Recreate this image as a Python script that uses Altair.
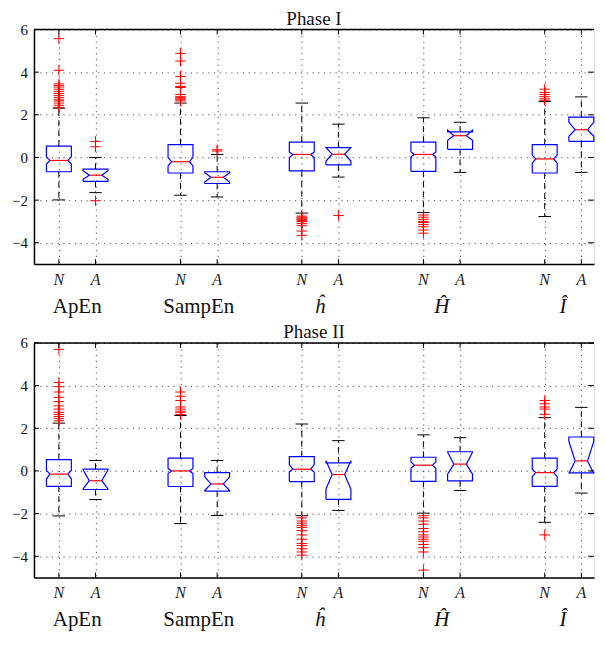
import altair as alt
import pandas as pd

# ---------------- data ----------------
positions = [1.0, 2.0, 4.32, 5.32, 7.63, 8.63, 10.95, 11.95, 14.26, 15.26]
cls_labels = ["N", "A", "N", "A", "N", "A", "N", "A", "N", "A"]
measures = ["ApEn", "SampEn", "ĥ", "Ĥ", "Î"]
measure_italic = [False, False, True, True, True]
yticks = [-4, -2, 0, 2, 4, 6]

# Phase I
p1_q1 = [-0.67, -1.12, -0.73, -1.22, -0.63, -0.35, -0.65, 0.38, -0.73, 0.75]
p1_med = [-0.14, -0.83, -0.20, -0.93, 0.14, 0.15, 0.14, 1.02, -0.07, 1.30]
p1_q3 = [0.53, -0.55, 0.60, -0.67, 0.72, 0.46, 0.72, 1.20, 0.60, 1.89]
p1_nlo = [-0.31, -1.02, -0.40, -1.15, 0.00, -0.17, 0.03, 0.80, -0.27, 0.99]
p1_nhi = [0.03, -0.62, 0.01, -0.72, 0.26, 0.46, 0.26, 1.28, 0.11, 1.65]
p1_wlo = [-1.99, -1.65, -1.77, -1.85, -2.61, -0.92, -2.58, -0.70, -2.77, -0.70]
p1_whi = [2.31, 0.00, 2.55, 0.14, 2.55, 1.56, 1.86, 1.65, 2.62, 2.84]
p1_out = [
    [5.57, 4.09, 3.45, 3.38, 3.3, 3.2, 3.1, 3.0, 2.9, 2.8, 2.7, 2.65, 2.55, 2.45, 2.35],
    [0.75, 0.5, -2.03],
    [4.88, 4.52, 3.8, 3.48, 3.33, 3.28, 2.95, 2.85, 2.8, 2.75, 2.7, 2.65],
    [0.36, 0.3],
    [-2.75, -2.8, -2.85, -2.9, -2.95, -3.0, -3.1, -3.2, -3.45, -3.65],
    [-2.72],
    [-2.7, -2.8, -2.9, -3.0, -3.05, -3.15, -3.25, -3.4, -3.55],
    [],
    [3.2, 3.05, 2.95, 2.85, 2.75, 2.68],
    [],
]

# Phase II
p2_q1 = [-0.72, -0.87, -0.73, -0.95, -0.50, -1.33, -0.49, -0.47, -0.72, -0.09]
p2_med = [-0.15, -0.46, 0.00, -0.61, 0.08, -0.17, 0.27, 0.32, -0.08, 0.47]
p2_q3 = [0.53, 0.08, 0.60, -0.08, 0.67, 0.38, 0.64, 0.90, 0.60, 1.59]
p2_nlo = [-0.38, -0.84, -0.12, -0.92, -0.05, -0.85, 0.12, -0.15, -0.27, -0.12]
p2_nhi = [0.03, 0.05, 0.12, -0.28, 0.30, 0.48, 0.42, 0.88, 0.08, 1.38]
p2_wlo = [-2.11, -1.34, -2.47, -2.09, -2.10, -1.85, -1.98, -0.92, -2.41, -1.04]
p2_whi = [2.24, 0.49, 2.60, 0.49, 2.20, 1.42, 1.69, 1.56, 2.50, 2.98]
p2_out = [
    [5.7, 4.15, 3.95, 3.7, 3.45, 3.25, 3.05, 2.9, 2.75, 2.65, 2.55, 2.45, 2.35],
    [],
    [3.7, 3.5, 3.3, 3.0, 2.9, 2.8, 2.75, 2.65],
    [],
    [-2.2, -2.35, -2.45, -2.55, -2.65, -2.8, -3.0, -3.2, -3.4, -3.5, -3.65, -3.8, -3.95],
    [],
    [-2.1, -2.2, -2.35, -2.5, -2.7, -2.85, -3.0, -3.1, -3.2, -3.3, -3.45, -3.6, -3.8, -4.65],
    [],
    [3.3, 3.15, 3.0, 2.9, 2.65, -3.0],
    [],
]

# ---------------- styling ----------------
W, H = 561, 235
HW = 0.34          # box half width (x units)
FONT = "Liberation Serif"
XDOM = [0.32, 15.606]
YDOM = [-5, 6]
BLUE, RED = "#0000ff", "#ff0000"
GRIDDASH = [1.2, 4.6]


def panel(title, q1, med, q3, nlo, nhi, wlo, whi, outs):
    xs = alt.Scale(domain=XDOM, nice=False, zero=False)
    ys = alt.Scale(domain=YDOM, nice=False, zero=False)
    xaxis = alt.Axis(values=positions, grid=True, labels=False, ticks=False,
                     tickSize=0, title=None, domain=True, domainColor="black",
                     domainWidth=1.5, gridColor="#222", gridDash=GRIDDASH,
                     gridWidth=1, gridOpacity=0.8)
    yaxis = alt.Axis(values=yticks, grid=True, ticks=False, tickSize=0,
                     title=None, domain=True, domainColor="black",
                     domainWidth=1.5, gridColor="#222", gridDash=GRIDDASH,
                     gridWidth=1, gridOpacity=0.8, labelFont=FONT,
                     labelFontSize=15, labelColor="#111", labelPadding=6.5)

    verts, meds, whisk, caps, pts = [], [], [], [], []
    for i, x in enumerate(positions):
        ind = HW * (0.28 if cls_labels[i] == "N" else 0.5)
        seq = [(x - HW, q1[i]), (x - HW, nlo[i]), (x - HW + ind, med[i]),
               (x - HW, nhi[i]), (x - HW, q3[i]), (x + HW, q3[i]),
               (x + HW, nhi[i]), (x + HW - ind, med[i]), (x + HW, nlo[i]),
               (x + HW, q1[i]), (x - HW, q1[i])]
        for k, (vx, vy) in enumerate(seq):
            verts.append({"box": i, "k": k, "x": vx, "y": vy})
        meds.append({"x": x - HW + ind, "x2": x + HW - ind, "y": med[i]})
        whisk.append({"x": x, "y": q3[i], "y2": whi[i]})
        whisk.append({"x": x, "y": q1[i], "y2": wlo[i]})
        caps.append({"x": x - HW / 2, "x2": x + HW / 2, "y": whi[i]})
        caps.append({"x": x - HW / 2, "x2": x + HW / 2, "y": wlo[i]})
        for o in outs[i]:
            pts.append({"x": x, "y": o})

    dv = pd.DataFrame(verts)
    dm = pd.DataFrame(meds)
    dw = pd.DataFrame(whisk)
    dc = pd.DataFrame(caps)
    dp = pd.DataFrame(pts)
    dt = pd.DataFrame({"y": yticks})
    dx = pd.DataFrame({"x": positions, "lab": cls_labels})
    dg = pd.DataFrame({
        "x": [(positions[2 * j] + positions[2 * j + 1]) / 2 for j in range(5)],
        "lab": measures,
        "it": ["italic" if b else "normal" for b in measure_italic],
    })

    boxes = alt.Chart(dv).mark_line(color=BLUE, strokeWidth=1.2).encode(
        x=alt.X("x:Q", scale=xs, axis=xaxis),
        y=alt.Y("y:Q", scale=ys, axis=yaxis),
        detail="box:N", order="k:Q")
    medl = alt.Chart(dm).mark_rule(color=RED, strokeWidth=1.2).encode(
        x=alt.X("x:Q", scale=xs, axis=xaxis), x2="x2:Q",
        y=alt.Y("y:Q", scale=ys, axis=yaxis))
    wl = alt.Chart(dw).mark_rule(color="black", strokeWidth=1,
                                 strokeDash=[6, 4]).encode(
        x=alt.X("x:Q", scale=xs, axis=xaxis),
        y=alt.Y("y:Q", scale=ys, axis=yaxis), y2="y2:Q")
    cl = alt.Chart(dc).mark_rule(color="black", strokeWidth=1).encode(
        x=alt.X("x:Q", scale=xs, axis=xaxis), x2="x2:Q",
        y=alt.Y("y:Q", scale=ys, axis=yaxis))
    ol = alt.Chart(dp).mark_point(shape="M-1,0L1,0M0,-1L0,1", filled=False,
                                  color=RED, strokeWidth=1, size=110,
                                  opacity=1).encode(
        x=alt.X("x:Q", scale=xs, axis=xaxis),
        y=alt.Y("y:Q", scale=ys, axis=yaxis))

    # frame top line and inward ticks
    top = alt.Chart(dt.head(1)).mark_rule(color="black", strokeWidth=1.5).encode(
        x=alt.value(0), x2=alt.value(W), y=alt.value(0))
    lt = alt.Chart(dt).mark_rule(color="black", strokeWidth=1).encode(
        y=alt.Y("y:Q", scale=ys, axis=yaxis), x=alt.value(0), x2=alt.value(5))
    rt = alt.Chart(dt).mark_rule(color="black", strokeWidth=1).encode(
        y=alt.Y("y:Q", scale=ys, axis=yaxis), x=alt.value(W - 6), x2=alt.value(W))
    tt = alt.Chart(dx).mark_rule(color="black", strokeWidth=1).encode(
        x=alt.X("x:Q", scale=xs, axis=xaxis), y=alt.value(0), y2=alt.value(5))
    bt = alt.Chart(dx).mark_rule(color="black", strokeWidth=1).encode(
        x=alt.X("x:Q", scale=xs, axis=xaxis), y=alt.value(H - 5), y2=alt.value(H))

    xl = alt.Chart(dx).mark_text(font=FONT, fontSize=16, fontStyle="italic",
                                 color="#222", baseline="middle").encode(
        x=alt.X("x:Q", scale=xs, axis=xaxis), y=alt.value(H + 15.5), text="lab:N")
    gl_n = alt.Chart(dg[dg["it"] == "normal"]).mark_text(
        font=FONT, fontSize=21, color="#111", baseline="middle").encode(
        x=alt.X("x:Q", scale=xs, axis=xaxis), y=alt.value(H + 42.5), text="lab:N")
    gl_i = alt.Chart(dg[dg["it"] == "italic"]).mark_text(
        font=FONT, fontSize=21, fontStyle="italic", color="#111",
        baseline="middle").encode(
        x=alt.X("x:Q", scale=xs, axis=xaxis), y=alt.value(H + 42.5), text="lab:N")

    return alt.layer(wl, cl, boxes, medl, ol, top, lt, rt, tt, bt, xl, gl_n, gl_i).properties(
        width=W, height=H,
        title=alt.TitleParams(title, font=FONT, fontSize=19, fontWeight="normal",
                              color="#111", offset=-6.2))


c1 = panel("Phase I", p1_q1, p1_med, p1_q3, p1_nlo, p1_nhi, p1_wlo, p1_whi, p1_out)
c2 = panel("Phase II", p2_q1, p2_med, p2_q3, p2_nlo, p2_nhi, p2_wlo, p2_whi, p2_out)

chart = alt.vconcat(c1, c2, spacing=79, bounds="flush").properties(
    padding={"left": 3, "top": 0, "right": 0, "bottom": 0}
).configure_view(stroke=None).configure(background="white")

chart.save("out.html", embed_options={"renderer": "svg", "actions": False})
